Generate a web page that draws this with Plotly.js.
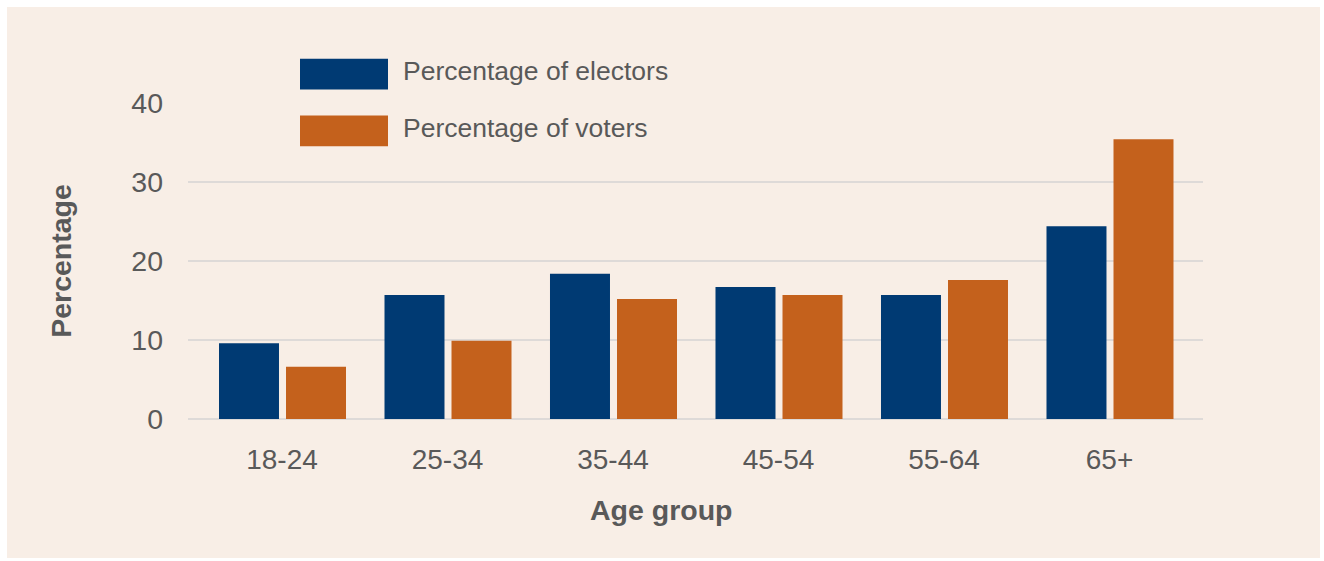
<!DOCTYPE html>
<html>
<head>
<meta charset="utf-8">
<script src="https://cdn.plot.ly/plotly-3.0.1.min.js"></script>
<style>
  html, body { margin: 0; padding: 0; background: #ffffff; }
  #chart { position: absolute; left: 7px; top: 7px; width: 1313px; height: 551px; }
</style>
</head>
<body>
<div id="chart"></div>
<script>
// ---- data ----
const ageGroups = ["18-24", "25-34", "35-44", "45-54", "55-64", "65+"];
const electors = [9.6, 15.7, 18.4, 16.7, 15.7, 24.4];
const voters = [6.6, 9.9, 15.2, 15.7, 17.6, 35.4];
const seriesNames = ["Percentage of electors", "Percentage of voters"];
const yTicks = [0, 10, 20, 30, 40];
const xTitle = "Age group";
const yTitle = "Percentage";

// ---- style ----
const BG = "#f8eee6";
const BLUE = "#003a73";
const ORANGE = "#c4611c";
const TXT = "#595959";
const GRID = "#dedad8";
const FONT = "Liberation Sans, Arial, sans-serif";

// plot area geometry (pixels in the div)
const W = 1313, H = 551;
const M = { l: 181, r: 117, t: 95.5, b: 138.5 };
const PW = W - M.l - M.r, PH = H - M.t - M.b;
const px2x = p => (p - 7 - M.l) / PW;          // page px -> paper x
const px2y = p => (H - M.b - (p - 7)) / PH;     // page px -> paper y

const traces = [
  { type: "bar", x: ageGroups.map((_, i) => i), y: electors, name: seriesNames[0],
    marker: { color: BLUE }, width: 0.3625, offset: -0.3807, hoverinfo: "y+name" },
  { type: "bar", x: ageGroups.map((_, i) => i), y: voters, name: seriesNames[1],
    marker: { color: ORANGE }, width: 0.3625, offset: 0.0242, hoverinfo: "y+name" }
];

// custom legend (large swatches as in reference)
const colors = [BLUE, ORANGE];
const legendRows = [[58, 89, 70.5], [115, 146, 127.5]];
const shapes = [], annotations = [];
seriesNames.forEach((n, i) => {
  const r = legendRows[i];
  shapes.push({ type: "rect", xref: "paper", yref: "paper",
    x0: px2x(300), x1: px2x(388), y0: px2y(r[1]), y1: px2y(r[0]),
    fillcolor: colors[i], line: { width: 0 } });
  annotations.push({ xref: "paper", yref: "paper", x: px2x(401), y: px2y(r[2]),
    xanchor: "left", yanchor: "middle", showarrow: false, text: n,
    font: { family: FONT, size: 26.5, color: TXT } });
});
// x axis title (offset left, as in reference)
annotations.push({ xref: "paper", yref: "paper", x: px2x(661), y: px2y(511),
  xanchor: "center", yanchor: "middle", showarrow: false, text: "<b>" + xTitle + "</b>",
  font: { family: FONT, size: 28.5, color: TXT } });

const layout = {
  width: W, height: H,
  margin: M,
  paper_bgcolor: BG, plot_bgcolor: BG,
  showlegend: false,
  barmode: "group",
  font: { family: FONT, color: TXT },
  xaxis: {
    type: "linear", range: [-0.568, 5.565],
    tickmode: "array", tickvals: ageGroups.map((_, i) => i), ticktext: ageGroups,
    showgrid: false, zeroline: false, showline: false, ticks: "",
    tickfont: { family: FONT, size: 28, color: TXT },
    ticklabelstandoff: 21
  },
  yaxis: {
    range: [0, 40], tickmode: "array", tickvals: yTicks,
    showgrid: true, gridcolor: GRID, gridwidth: 1.5,
    zeroline: true, zerolinecolor: GRID, zerolinewidth: 1.5,
    showline: false, ticks: "",
    tickfont: { family: FONT, size: 28.5, color: TXT },
    ticklabelstandoff: 24,
    title: { text: "<b>" + yTitle + "</b>", font: { family: FONT, size: 28.5, color: TXT }, standoff: 51 }
  },
  shapes: shapes,
  annotations: annotations
};

Plotly.newPlot("chart", traces, layout, { displayModeBar: false, staticPlot: true });
</script>
</body>
</html>
